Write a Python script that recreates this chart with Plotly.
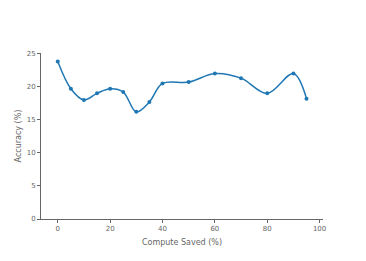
import plotly.graph_objects as go

compute_saved = [0, 5, 10, 15, 20, 25, 30, 35, 40, 50, 60, 70, 80, 90, 95]
accuracy = [23.8, 19.7, 18.0, 19.0, 19.7, 19.2, 16.2, 17.7, 20.5, 20.7, 22.0, 21.3, 19.0, 22.0, 18.2]

fig = go.Figure(go.Scatter(
    x=compute_saved, y=accuracy, mode="lines+markers",
    line=dict(shape="spline", color="#1f77b4", width=1.5),
    marker=dict(size=4, color="#1f77b4"),
))

axis_common = dict(
    showgrid=False, zeroline=False, showline=True, linecolor="#666", linewidth=1,
    ticks="outside", ticklen=3, tickcolor="#666", automargin=False,
    tickfont=dict(size=7, color="#666", family="DejaVu Sans"),
    title_font=dict(size=8, color="#666", family="DejaVu Sans"),
)

fig.update_layout(
    width=366, height=261,
    margin=dict(l=33, r=51, t=45, b=50),
    paper_bgcolor="white", plot_bgcolor="white",
    showlegend=False,
    xaxis=dict(range=[-6.4, 101.3], tickvals=[0, 20, 40, 60, 80, 100],
               title=dict(text="Compute Saved (%)", standoff=6), **axis_common),
    yaxis=dict(range=[0, 25.1], tickvals=[0, 5, 10, 15, 20, 25],
               title=dict(text="Accuracy (%)", standoff=3), **axis_common),
)

fig.write_html("out.html")
